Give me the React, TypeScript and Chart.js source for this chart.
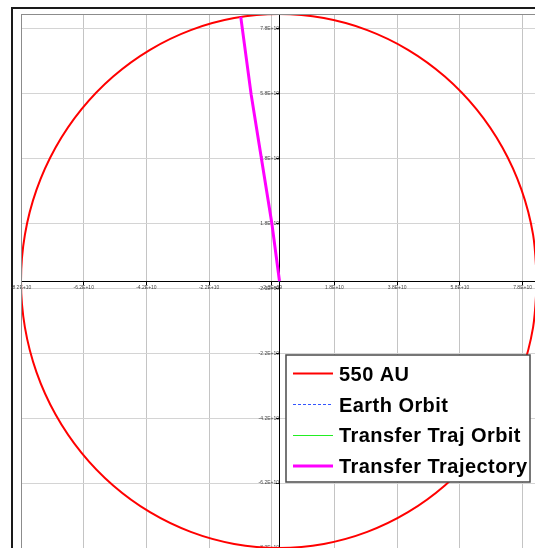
import { useEffect, useRef } from 'react';
import { Chart, registerables } from 'chart.js';

Chart.register(...registerables);

// ---- data (km) ----
const seriesNames = ['550 AU', 'Earth Orbit', 'Transfer Traj Orbit', 'Transfer Trajectory'];

const circleX = [
  8.23e10, 8.105e10, 7.734e10, 7.127e10, 6.304e10, 5.29e10, 4.115e10, 2.815e10, 1.429e10, 0,
  -1.429e10, -2.815e10, -4.115e10, -5.29e10, -6.304e10, -7.127e10, -7.734e10, -8.105e10, -8.23e10,
  -8.105e10, -7.734e10, -7.127e10, -6.304e10, -5.29e10, -4.115e10, -2.815e10, -1.429e10, 0,
  1.429e10, 2.815e10, 4.115e10, 5.29e10, 6.304e10, 7.127e10, 7.734e10, 8.105e10, 8.23e10,
];
const circleY = [
  0, 1.429e10, 2.815e10, 4.115e10, 5.29e10, 6.304e10, 7.127e10, 7.734e10, 8.105e10, 8.23e10,
  8.105e10, 7.734e10, 7.127e10, 6.304e10, 5.29e10, 4.115e10, 2.815e10, 1.429e10, 0,
  -1.429e10, -2.815e10, -4.115e10, -5.29e10, -6.304e10, -7.127e10, -7.734e10, -8.105e10, -8.23e10,
  -8.105e10, -7.734e10, -7.127e10, -6.304e10, -5.29e10, -4.115e10, -2.815e10, -1.429e10, 0,
];

const earthX = [1.496e8, 0, -1.496e8, 0, 1.496e8];
const earthY = [0, 1.496e8, 0, -1.496e8, 0];

const orbitX = [1.496e8, -2.3e9, -6.3e9];
const orbitY = [0, 1.79e10, 4.19e10];

const trajX = [1.496e8, -2.3e9, -6.3e9, -8.9e9, -1.22e10];
const trajY = [0, 1.79e10, 4.19e10, 5.76e10, 8.14e10];

const axisMin = -8.23e10;
const axisMax = 8.23e10;
const tickValues = [-8.23e10, -6.23e10, -4.23e10, -2.23e10, -2.3e9, 1.77e10, 3.77e10, 5.77e10, 7.77e10];
const tickLabels = ['-8.2E+10', '-6.2E+10', '-4.2E+10', '-2.2E+10', '-2.3E+09', '1.8E+10', '3.8E+10', '5.8E+10', '7.8E+10'];

const colors = ['#ff0000', '#3355ff', '#22ee22', '#ff00ff'];
const widths = [2, 1, 1, 3];
const dashes: number[][] = [[], [3, 2], [], []];

const toPts = (xs: number[], ys: number[]) => xs.map((x, i) => ({ x, y: ys[i] }));

const framePlugin = {
  id: 'frame',
  beforeDraw(chart: any) {
    const { ctx, width, height } = chart;
    ctx.save();
    ctx.fillStyle = '#ffffff';
    ctx.fillRect(0, 0, width, height);
    ctx.strokeStyle = '#1a1a1a';
    ctx.lineWidth = 2;
    ctx.beginPath();
    ctx.moveTo(12, height);
    ctx.lineTo(12, 8);
    ctx.lineTo(width, 8);
    ctx.stroke();
    ctx.restore();
  },
  afterDraw(chart: any) {
    const { ctx, chartArea } = chart;
    ctx.save();
    ctx.strokeStyle = '#8c8c8c';
    ctx.lineWidth = 1;
    ctx.strokeRect(chartArea.left + 0.5, chartArea.top + 0.5, chartArea.right - chartArea.left, chartArea.bottom - chartArea.top);

    // legend
    const bx = 286, by = 355, bw = 244, bh = 127;
    ctx.fillStyle = '#ffffff';
    ctx.fillRect(bx, by, bw, bh);
    ctx.strokeStyle = '#4a4a4a';
    ctx.lineWidth = 1.5;
    ctx.strokeRect(bx, by, bw, bh);
    const rowsLine = [373.5, 404.5, 435.5, 466];
    const rowsText = [381, 411.5, 442, 473];
    seriesNames.forEach((name, i) => {
      ctx.beginPath();
      ctx.strokeStyle = colors[i];
      ctx.lineWidth = widths[i];
      ctx.setLineDash(dashes[i]);
      ctx.moveTo(293, rowsLine[i]);
      ctx.lineTo(333, rowsLine[i]);
      ctx.stroke();
      ctx.setLineDash([]);
      ctx.fillStyle = '#000000';
      ctx.font = 'bold 20px "Liberation Sans", Arial, sans-serif';
      (ctx as any).letterSpacing = '0.45px';
      ctx.textBaseline = 'alphabetic';
      ctx.textAlign = 'left';
      ctx.fillText(name, 339, rowsText[i]);
    });
    ctx.restore();
  },
};

const makeAxis = (pos: any, gridColor: string) => ({
  type: 'linear' as const,
  min: axisMin,
  max: axisMax,
  position: pos,
  afterBuildTicks: (scale: any) => {
    scale.ticks = tickValues.map((v) => ({ value: v }));
  },
  ticks: {
    autoSkip: false,
    maxRotation: 0,
    minRotation: 0,
    padding: 1,
    color: '#444444',
    font: { size: 5, family: '"Liberation Sans", Arial, sans-serif' },
    callback: (_v: any, i: number) => tickLabels[i],
  },
  grid: {
    color: gridColor,
    lineWidth: 1,
    drawTicks: true,
    tickLength: 3,
    tickColor: '#000000',
  },
  border: { display: true, color: '#000000', width: 1 },
});

export default function App() {
  const ref = useRef<HTMLCanvasElement | null>(null);
  useEffect(() => {
    if (!ref.current) return;
    const chart = new Chart(ref.current, {
      type: 'scatter',
      data: {
        datasets: [
          { label: seriesNames[0], data: toPts(circleX, circleY), showLine: true, borderColor: colors[0], backgroundColor: colors[0], borderWidth: widths[0], pointRadius: 0, tension: 0.33, order: 3 },
          { label: seriesNames[1], data: toPts(earthX, earthY), showLine: true, borderColor: colors[1], backgroundColor: colors[1], borderWidth: widths[1], borderDash: dashes[1], pointRadius: 0, order: 2 },
          { label: seriesNames[2], data: toPts(orbitX, orbitY), showLine: true, borderColor: colors[2], backgroundColor: colors[2], borderWidth: widths[2], pointRadius: 0, order: 1 },
          { label: seriesNames[3], data: toPts(trajX, trajY), showLine: true, borderColor: colors[3], backgroundColor: colors[3], borderWidth: widths[3], pointRadius: 0, order: 0 },
        ],
      },
      options: {
        responsive: false,
        devicePixelRatio: 1,
        animation: false,
        layout: { padding: { left: 21, top: 14, right: 8, bottom: 8 } },
        plugins: { legend: { display: false }, tooltip: { enabled: false } },
        scales: {
          x: makeAxis({ y: 0 }, '#c4c4c4'),
          y: makeAxis({ x: 0 }, '#d4d4d4'),
        },
      },
      plugins: [framePlugin],
    });
    return () => chart.destroy();
  }, []);
  return (
    <div style={{ position: 'absolute', left: 0, top: 0, width: 535, height: 548, overflow: 'hidden', background: '#ffffff' }}>
      <canvas ref={ref} width={545} height={556} style={{ display: 'block', width: 545, height: 556 }} />
    </div>
  );
}
